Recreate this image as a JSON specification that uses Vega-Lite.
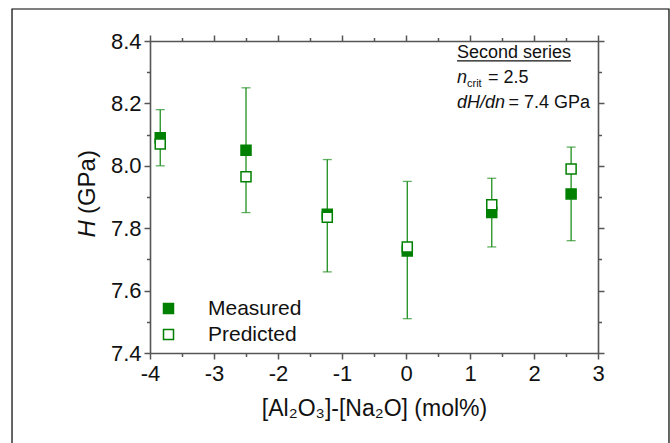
{
  "$schema": "https://vega.github.io/schema/vega-lite/v6.json",
  "width": 448,
  "height": 312,
  "autosize": "none",
  "padding": {"left": 150, "top": 41, "right": 72, "bottom": 90},
  "background": "white",
  "config": {
    "font": "Liberation Sans",
    "view": {"stroke": null},
    "axis": {
      "domainColor": "#555555",
      "domainWidth": 1.6,
      "tickColor": "#555555",
      "tickWidth": 1.5,
      "grid": false,
      "labelColor": "#111111",
      "labelFont": "Liberation Sans",
      "labelFontSize": 22,
      "titleFont": "Liberation Sans",
      "titleFontWeight": "normal",
      "titleColor": "#111111"
    }
  },
  "datasets": {
    "bars": [
      {"x": -3.84, "lo": 8.00, "hi": 8.18},
      {"x": -2.5, "lo": 7.85, "hi": 8.25},
      {"x": -1.23, "lo": 7.66, "hi": 8.02},
      {"x": 0.02, "lo": 7.51, "hi": 7.95},
      {"x": 1.34, "lo": 7.74, "hi": 7.96},
      {"x": 2.58, "lo": 7.76, "hi": 8.06}
    ],
    "pts": [
      {"x": -3.84, "H": 8.09, "series": "Measured"},
      {"x": -2.5, "H": 8.05, "series": "Measured"},
      {"x": -1.23, "H": 7.845, "series": "Measured"},
      {"x": 0.02, "H": 7.727, "series": "Measured"},
      {"x": 1.34, "H": 7.85, "series": "Measured"},
      {"x": 2.58, "H": 7.91, "series": "Measured"},
      {"x": -3.84, "H": 8.07, "series": "Predicted"},
      {"x": -2.5, "H": 7.965, "series": "Predicted"},
      {"x": -1.23, "H": 7.835, "series": "Predicted"},
      {"x": 0.02, "H": 7.74, "series": "Predicted"},
      {"x": 1.34, "H": 7.875, "series": "Predicted"},
      {"x": 2.58, "H": 7.99, "series": "Predicted"}
    ]
  },
  "resolve": {"axis": {"x": "independent", "y": "independent"}},
  "layer": [
    {
      "data": {"name": "bars"},
      "mark": {"type": "rule", "color": "#1f8f1f", "strokeWidth": 1.3},
      "encoding": {
        "x": {
          "field": "x", "type": "quantitative",
          "scale": {"domain": [-4, 3], "nice": false, "zero": false},
          "axis": {
            "orient": "bottom",
            "values": [-4, -3.5, -3, -2.5, -2, -1.5, -1, -0.5, 0, 0.5, 1, 1.5, 2, 2.5, 3],
            "labelExpr": "datum.value == round(datum.value) ? '' + datum.value : ''",
            "tickSize": {"condition": {"test": "datum.value == round(datum.value)", "value": 6}, "value": 3.5},
            "labelPadding": 4,
            "labelFlush": false,
            "labelOverlap": false,
            "title": "[Al₂O₃]-[Na₂O] (mol%)",
            "titleFontSize": 23,
            "titlePadding": 13
          }
        },
        "y": {
          "field": "lo", "type": "quantitative",
          "scale": {"domain": [7.4, 8.4], "nice": false, "zero": false},
          "axis": {
            "orient": "left",
            "values": [7.4, 7.5, 7.6, 7.7, 7.8, 7.9, 8.0, 8.1, 8.2, 8.3, 8.4],
            "labelExpr": "abs(datum.value*5 - round(datum.value*5)) < 0.01 ? format(datum.value, '.1f') : ''",
            "tickSize": {"condition": {"test": "abs(datum.value*5 - round(datum.value*5)) < 0.01", "value": 6}, "value": 3.5},
            "labelPadding": 3,
            "labelFlush": false,
            "labelOverlap": false,
            "title": null
          }
        },
        "y2": {"field": "hi"}
      }
    },
    {
      "data": {"name": "bars"},
      "mark": {"type": "tick", "orient": "horizontal", "color": "#1f8f1f", "size": 9, "thickness": 1.3},
      "encoding": {
        "x": {
          "field": "x", "type": "quantitative",
          "axis": {
            "orient": "top",
            "values": [-4, -3.5, -3, -2.5, -2, -1.5, -1, -0.5, 0, 0.5, 1, 1.5, 2, 2.5, 3],
            "labels": false,
            "tickSize": {"condition": {"test": "datum.value == round(datum.value)", "value": 6}, "value": 3.5},
            "title": null
          }
        },
        "y": {
          "field": "lo", "type": "quantitative",
          "axis": {
            "orient": "right",
            "values": [7.4, 7.5, 7.6, 7.7, 7.8, 7.9, 8.0, 8.1, 8.2, 8.3, 8.4],
            "labels": false,
            "tickSize": {"condition": {"test": "abs(datum.value*5 - round(datum.value*5)) < 0.01", "value": 6}, "value": 3.5},
            "title": null
          }
        }
      }
    },
    {
      "data": {"name": "bars"},
      "mark": {"type": "tick", "orient": "horizontal", "color": "#1f8f1f", "size": 9, "thickness": 1.3},
      "encoding": {
        "x": {"field": "x", "type": "quantitative", "axis": null},
        "y": {"field": "hi", "type": "quantitative", "axis": null}
      }
    },
    {
      "data": {"name": "pts"},
      "mark": {"type": "point", "shape": "square", "filled": false, "size": 100, "stroke": "#008000", "strokeWidth": 1.5, "opacity": 1},
      "encoding": {
        "x": {"field": "x", "type": "quantitative", "axis": null},
        "y": {"field": "H", "type": "quantitative", "axis": null},
        "fill": {
          "field": "series", "type": "nominal",
          "scale": {"domain": ["Measured", "Predicted"], "range": ["#008000", "#ffffff"]},
          "legend": {
            "title": null,
            "orient": "bottom-left",
            "offset": 8,
            "padding": 0,
            "symbolType": "square",
            "symbolSize": 100,
            "symbolStrokeColor": "#008000",
            "symbolStrokeWidth": 1.5,
            "symbolOpacity": 1,
            "labelFont": "Liberation Sans",
            "labelFontSize": 21,
            "labelColor": "#111111",
            "labelOffset": 29,
            "rowPadding": 4
          }
        },
        "fillOpacity": {"value": 1}
      }
    },
    {
      "data": {"values": [{}]},
      "mark": {"type": "text", "font": "Liberation Sans", "fontSize": 24, "angle": 270, "align": "left", "baseline": "middle", "dx": 6, "color": "#111111"},
      "encoding": {
        "x": {"datum": -4.97, "type": "quantitative", "axis": null},
        "y": {"datum": 7.826, "type": "quantitative", "axis": null},
        "text": {"value": "(GPa)"}
      }
    },
    {
      "data": {"values": [{}]},
      "mark": {"type": "text", "font": "Liberation Sans", "fontSize": 24, "fontStyle": "italic", "angle": 270, "align": "right", "baseline": "middle", "color": "#111111"},
      "encoding": {
        "x": {"datum": -4.97, "type": "quantitative", "axis": null},
        "y": {"datum": 7.826, "type": "quantitative", "axis": null},
        "text": {"value": "H"}
      }
    },
    {
      "data": {"values": [{}]},
      "mark": {"type": "text", "font": "Liberation Sans", "fontSize": 18, "align": "left", "baseline": "alphabetic", "color": "#111111"},
      "encoding": {
        "x": {"datum": 0.797, "type": "quantitative", "axis": null},
        "y": {"datum": 8.3455, "type": "quantitative", "axis": null},
        "text": {"value": "Second series"}
      }
    },
    {
      "data": {"values": [{}]},
      "mark": {"type": "rule", "color": "#111111", "strokeWidth": 1.2},
      "encoding": {
        "x": {"datum": 0.797, "type": "quantitative", "axis": null},
        "x2": {"datum": 2.578},
        "y": {"datum": 8.336, "type": "quantitative", "axis": null}
      }
    },
    {
      "data": {"values": [{}]},
      "mark": {"type": "text", "font": "Liberation Sans", "fontSize": 18, "fontStyle": "italic", "align": "left", "baseline": "alphabetic", "color": "#111111"},
      "encoding": {
        "x": {"datum": 0.797, "type": "quantitative", "axis": null},
        "y": {"datum": 8.265, "type": "quantitative", "axis": null},
        "text": {"value": "n"}
      }
    },
    {
      "data": {"values": [{}]},
      "mark": {"type": "text", "font": "Liberation Sans", "fontSize": 11, "align": "left", "baseline": "alphabetic", "dy": 4, "color": "#111111"},
      "encoding": {
        "x": {"datum": 0.953, "type": "quantitative", "axis": null},
        "y": {"datum": 8.265, "type": "quantitative", "axis": null},
        "text": {"value": "crit"}
      }
    },
    {
      "data": {"values": [{}]},
      "mark": {"type": "text", "font": "Liberation Sans", "fontSize": 18, "align": "left", "baseline": "alphabetic", "color": "#111111"},
      "encoding": {
        "x": {"datum": 1.28, "type": "quantitative", "axis": null},
        "y": {"datum": 8.265, "type": "quantitative", "axis": null},
        "text": {"value": "= 2.5"}
      }
    },
    {
      "data": {"values": [{}]},
      "mark": {"type": "text", "font": "Liberation Sans", "fontSize": 18, "fontStyle": "italic", "align": "left", "baseline": "alphabetic", "color": "#111111"},
      "encoding": {
        "x": {"datum": 0.797, "type": "quantitative", "axis": null},
        "y": {"datum": 8.185, "type": "quantitative", "axis": null},
        "text": {"value": "dH/dn"}
      }
    },
    {
      "data": {"values": [{}]},
      "mark": {"type": "text", "font": "Liberation Sans", "fontSize": 18, "align": "left", "baseline": "alphabetic", "color": "#111111"},
      "encoding": {
        "x": {"datum": 1.6, "type": "quantitative", "axis": null},
        "y": {"datum": 8.185, "type": "quantitative", "axis": null},
        "text": {"value": "= 7.4 GPa"}
      }
    },
    {
      "data": {"values": [{}]},
      "mark": {"type": "rect", "fill": null, "fillOpacity": 0, "stroke": "#000000", "strokeWidth": 1.2},
      "encoding": {
        "x": {"datum": -6.156, "type": "quantitative", "axis": null},
        "x2": {"datum": 4.109},
        "y": {"datum": 8.5026, "type": "quantitative", "axis": null},
        "y2": {"datum": 7.0}
      }
    }
  ]
}
